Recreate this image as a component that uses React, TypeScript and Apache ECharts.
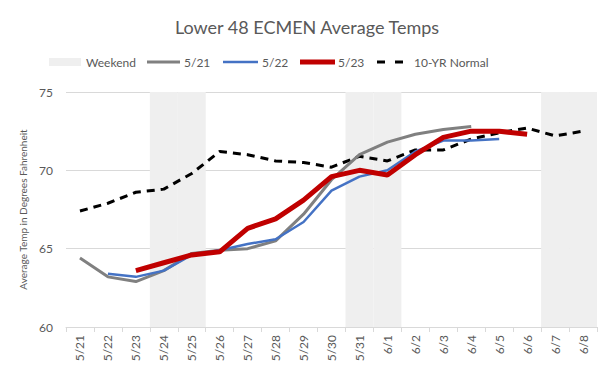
import React, { useEffect, useRef } from "react";
import * as echarts from "echarts";

const categories = ["5/21","5/22","5/23","5/24","5/25","5/26","5/27","5/28","5/29","5/30","5/31","6/1","6/2","6/3","6/4","6/5","6/6","6/7","6/8"];
const weekend = [null,null,null,75,75,null,null,null,null,null,75,75,null,null,null,null,null,75,75];
const run521 = [64.4,63.2,62.9,63.6,64.7,64.9,65.0,65.5,67.2,69.4,71.0,71.8,72.3,72.6,72.8,null,null,null,null];
const run522 = [null,63.4,63.2,63.6,64.6,64.9,65.3,65.6,66.7,68.7,69.6,70.0,71.2,71.9,71.9,72.0,null,null,null];
const run523 = [null,null,63.6,64.1,64.6,64.8,66.3,66.9,68.1,69.6,70.0,69.7,71.0,72.1,72.5,72.5,72.3,null,null];
const normal = [67.4,67.9,68.6,68.8,69.8,71.2,71.0,70.6,70.5,70.2,70.9,70.6,71.3,71.3,72.0,72.4,72.7,72.2,72.5];

const legendNames = ["Weekend", "5/21", "5/22", "5/23", "10-YR Normal"];

const FONT = "Lato, 'Liberation Sans', sans-serif";
const TXT = "#595959";

export default function App() {
  const ref = useRef<HTMLDivElement>(null);
  useEffect(() => {
    const chart = echarts.init(ref.current!, null, { renderer: "svg" });
    const LY = 62;
    const legendText = (x: number, t: string) => ({
      type: "text",
      x,
      y: LY,
      style: { text: t, fontFamily: FONT, fontSize: 12, fill: TXT, textVerticalAlign: "middle", textAlign: "left" },
      silent: true,
    });
    const legendLine = (x1: number, x2: number, color: string, w: number, dash?: number[]) => ({
      type: "line",
      shape: { x1, y1: LY, x2, y2: LY },
      style: { stroke: color, lineWidth: w, lineDash: dash },
      silent: true,
    });
    chart.setOption({
      animation: false,
      textStyle: { fontFamily: FONT },
      title: {
        text: "Lower 48 ECMEN Average Temps",
        left: "center",
        top: 13,
        textStyle: { fontFamily: FONT, fontSize: 18, fontWeight: "normal", color: TXT },
      },
      graphic: [
        { type: "rect", shape: { x: 49, y: 58, width: 32, height: 8 }, style: { fill: "#efefef" }, silent: true },
        legendText(86, legendNames[0]),
        legendLine(147, 180, "#808080", 3),
        legendText(184, legendNames[1]),
        legendLine(223, 258, "#4472c4", 2.5),
        legendText(262, legendNames[2]),
        legendLine(300, 335, "#c00000", 5),
        legendText(338, legendNames[3]),
        legendLine(377, 405, "#000000", 3, [8, 10]),
        legendText(414, legendNames[4]),
      ],
      grid: { left: 66, right: 17, top: 92, bottom: 46 },
      xAxis: {
        type: "category",
        data: categories,
        boundaryGap: true,
        axisLine: { lineStyle: { color: "#d9d9d9" } },
        axisTick: { show: true, length: 5, lineStyle: { color: "#d9d9d9" } },
        axisLabel: { rotate: 90, fontSize: 12, color: TXT, margin: 8, fontFamily: FONT, interval: 0 },
      },
      yAxis: {
        type: "value",
        min: 60,
        max: 75,
        interval: 5,
        name: "Average Temp in Degrees Fahrenheit",
        nameLocation: "middle",
        nameGap: 27,
        nameTextStyle: { fontSize: 10, color: TXT, fontFamily: FONT },
        axisLine: { show: false },
        axisTick: { show: false },
        axisLabel: { fontSize: 12, color: TXT, margin: 13, fontFamily: FONT },
        splitLine: { lineStyle: { color: "#d9d9d9" } },
      },
      series: [
        {
          name: legendNames[0],
          type: "bar",
          data: weekend,
          barWidth: "100%",
          itemStyle: { color: "#efefef" },
          z: 1,
          silent: true,
        },
        {
          name: legendNames[1],
          type: "line",
          data: run521,
          symbol: "none",
          lineStyle: { color: "#808080", width: 3 },
          itemStyle: { color: "#808080" },
          z: 3,
        },
        {
          name: legendNames[2],
          type: "line",
          data: run522,
          symbol: "none",
          lineStyle: { color: "#4472c4", width: 2.5 },
          itemStyle: { color: "#4472c4" },
          z: 3,
        },
        {
          name: legendNames[3],
          type: "line",
          data: run523,
          symbol: "none",
          lineStyle: { color: "#c00000", width: 5 },
          itemStyle: { color: "#c00000" },
          z: 4,
        },
        {
          name: legendNames[4],
          type: "line",
          data: normal,
          symbol: "none",
          lineStyle: { color: "#000000", width: 3, type: [8, 6] },
          itemStyle: { color: "#000000" },
          z: 2,
        },
      ],
    });
    return () => chart.dispose();
  }, []);
  return <div ref={ref} style={{ width: 614, height: 373, position: "absolute", left: 0, top: 0, background: "#fff" }} />;
}
